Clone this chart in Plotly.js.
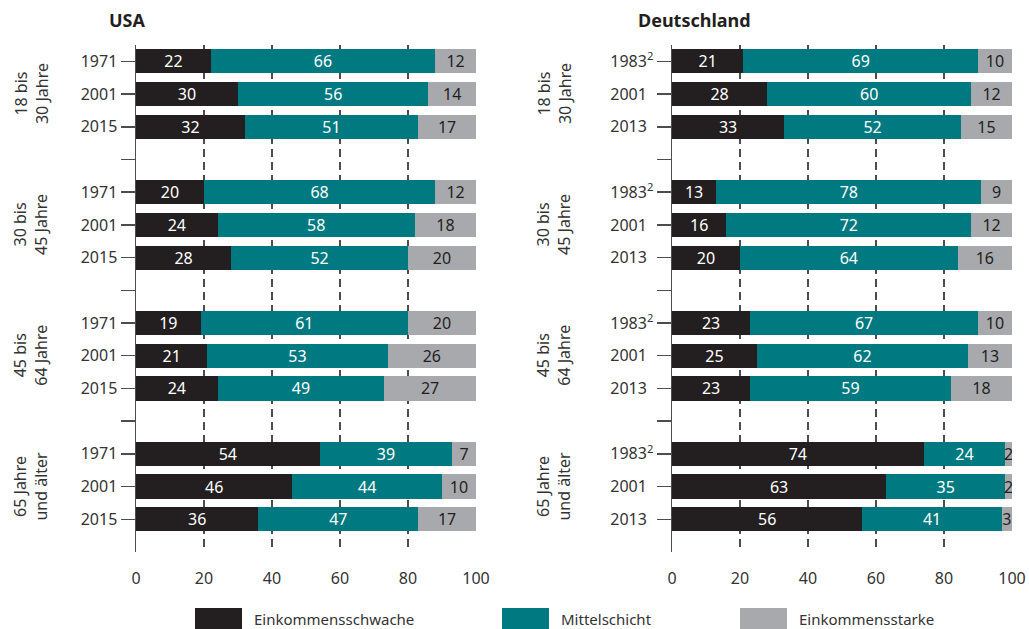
<!DOCTYPE html>
<html>
<head>
<meta charset="utf-8">
<script src="https://cdn.plot.ly/plotly-3.0.1.min.js"></script>
<style>html,body{margin:0;padding:0;background:#fff;}#chart{width:1029px;height:629px;}</style>
</head>
<body>
<div id="chart"></div>
<script>
// ---- data ----
const yearsUSA = ['1971', '2001', '2015'];
const yearsDE = ['1983<sup>2</sup>', '2001', '2013'];
const groupLabels = [['18 bis', '30 Jahre'], ['30 bis', '45 Jahre'], ['45 bis', '64 Jahre'], ['65 Jahre', 'und älter']];
const seriesNames = ['Einkommensschwache', 'Mittelschicht', 'Einkommensstarke'];
const usaLow  = [22, 30, 32, 20, 24, 28, 19, 21, 24, 54, 46, 36];
const usaMid  = [66, 56, 51, 68, 58, 52, 61, 53, 49, 39, 44, 47];
const usaHigh = [12, 14, 17, 12, 18, 20, 20, 26, 27, 7, 10, 17];
const deLow   = [21, 28, 33, 13, 16, 20, 23, 25, 23, 74, 63, 56];
const deMid   = [69, 60, 52, 78, 72, 64, 67, 62, 59, 24, 35, 41];
const deHigh  = [10, 12, 15, 9, 12, 16, 10, 13, 18, 2, 2, 3];
const xTicks = [0, 20, 40, 60, 80, 100];

// ---- styling ----
const colors = ['#231f20', '#007a80', '#a8a9ad'];
const textColors = ['#ffffff', '#ffffff', '#231f20'];
const FONT = 'Noto Sans, Open Sans, sans-serif';
const W = 1029, H = 629;
const M = {l: 136, r: 17, t: 45, b: 77};
const plotW = W - M.l - M.r, plotH = H - M.t - M.b;
const px = v => (v - M.l) / plotW;      // pixel x -> paper
const py = v => (H - M.b - v) / plotH;  // pixel y -> paper

// y slot for each row: 3 rows per group, one empty slot between groups
const nRows = usaLow.length;
const yPos = [];
for (let i = 0; i < nRows; i++) yPos.push(Math.floor(i / 3) * 4 + (i % 3));
const tickVals = [], tickUSA = [], tickDE = [];
for (let g = 0; g < groupLabels.length; g++) {
  for (let k = 0; k < 3; k++) {
    tickVals.push(g * 4 + k);
    tickUSA.push(yearsUSA[k]);
    tickDE.push(k === 0 ? yearsDE[k] : yearsDE[k] + "<sup style='color:rgba(0,0,0,0)'>2</sup>");
  }
  if (g < groupLabels.length - 1) { tickVals.push(g * 4 + 3); tickUSA.push(''); tickDE.push(''); }
}

const traces = [];
function addPanel(vals, xa, ya) {
  vals.forEach((arr, s) => {
    traces.push({
      type: 'bar', orientation: 'h', x: arr, y: yPos, xaxis: xa, yaxis: ya,
      width: 0.74, name: seriesNames[s], showlegend: false,
      marker: {color: colors[s], line: {width: 0}},
      text: arr.map(String), textposition: 'inside', insidetextanchor: 'middle', textangle: 0,
      textfont: {family: FONT, size: 16, color: textColors[s]},
      hoverinfo: 'x+name'
    });
  });
}
addPanel([usaLow, usaMid, usaHigh], 'x', 'y');
addPanel([deLow, deMid, deHigh], 'x2', 'y2');

const xAxisBase = {
  range: [0, 100], tickvals: xTicks, ticktext: xTicks.map(String),
  showgrid: true, gridcolor: '#4d4d4d', gridwidth: 1.3, griddash: '8px,5px',
  zeroline: false, showline: false, ticks: 'outside', ticklen: 12, tickcolor: 'rgba(0,0,0,0)',
  tickfont: {family: FONT, size: 16, color: '#333'}, fixedrange: true
};
const yAxisBase = {
  range: [15, -0.5], tickvals: tickVals, showgrid: false, zeroline: false,
  showline: true, linecolor: '#4d4d4d', linewidth: 1.5,
  ticks: 'outside', ticklen: 14, tickwidth: 1.5, tickcolor: '#4d4d4d',
  tickfont: {family: FONT, size: 16, color: '#333'}, fixedrange: true
};

const annotations = [];
const shapes = [];
function groupAnnots(xCenterPx, ya) {
  groupLabels.forEach((lab, g) => {
    annotations.push({
      xref: 'paper', yref: ya, x: px(xCenterPx), y: g * 4 + 1,
      xanchor: 'center', yanchor: 'middle', textangle: -90, showarrow: false,
      text: lab.join('<br>'), font: {family: FONT, size: 16, color: '#333'}
    });
  });
}
groupAnnots(31, 'y');
groupAnnots(554, 'y2');
annotations.push({xref: 'paper', yref: 'paper', x: px(107), y: py(20), xanchor: 'left', yanchor: 'middle',
  showarrow: false, text: '<b>USA</b>', font: {family: FONT, size: 18, color: '#231f20'}});
annotations.push({xref: 'paper', yref: 'paper', x: px(636), y: py(20), xanchor: 'left', yanchor: 'middle',
  showarrow: false, text: '<b>Deutschland</b>', font: {family: FONT, size: 18, color: '#231f20'}});

// legend (swatches + labels)
const legX = [195, 502, 740];
seriesNames.forEach((n, s) => {
  shapes.push({type: 'rect', xref: 'paper', yref: 'paper', x0: px(legX[s]), x1: px(legX[s] + 47),
    y0: py(608), y1: py(629), fillcolor: colors[s], line: {width: 0}});
  annotations.push({xref: 'paper', yref: 'paper', x: px(legX[s] + 57), y: py(619), xanchor: 'left', yanchor: 'middle',
    showarrow: false, text: n, font: {family: FONT, size: 15, color: '#333'}});
});

const domL = [0, 340 / plotW];
const domR = [(672 - M.l) / plotW, 1];
const layout = {
  width: W, height: H, margin: M, paper_bgcolor: '#fff', plot_bgcolor: '#fff',
  barmode: 'stack', bargap: 0, showlegend: false,
  uniformtext: {minsize: 16, mode: 'show'},
  font: {family: FONT, color: '#333'},
  xaxis: Object.assign({}, xAxisBase, {domain: domL, anchor: 'y'}),
  xaxis2: Object.assign({}, xAxisBase, {domain: domR, anchor: 'y2'}),
  yaxis: Object.assign({}, yAxisBase, {ticktext: tickUSA, anchor: 'x'}),
  yaxis2: Object.assign({}, yAxisBase, {ticktext: tickDE, anchor: 'x2'}),
  annotations: annotations, shapes: shapes
};
Plotly.newPlot('chart', traces, layout, {displayModeBar: false, staticPlot: true});
</script>
</body>
</html>
